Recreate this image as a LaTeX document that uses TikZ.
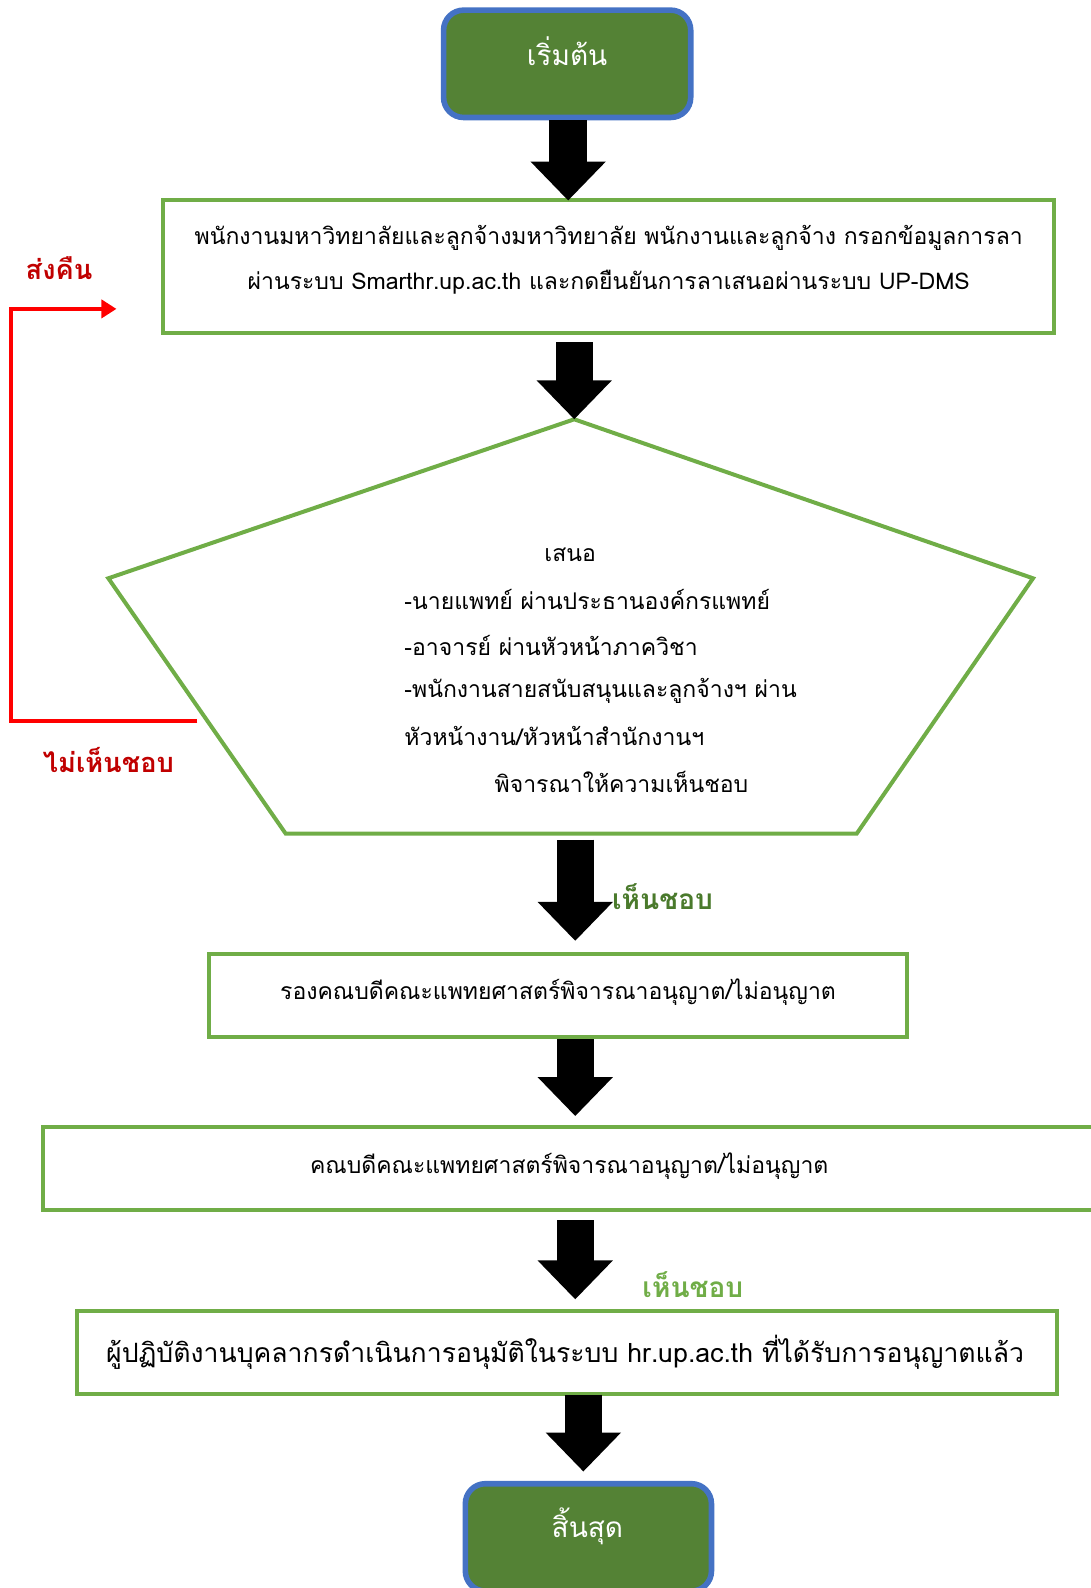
\documentclass[tikz,border=0pt]{standalone}
\usepackage{fontspec}
\newfontfamily\thai[Script=Thai]{Loma}
\usetikzlibrary{arrows.meta}
\definecolor{boxgreen}{HTML}{70AD47}
\definecolor{fillgreen}{HTML}{548235}
\definecolor{edgeblue}{HTML}{4472C4}
\definecolor{darkred}{HTML}{C00000}
\definecolor{okgreen}{HTML}{4A7A2C}
\tikzset{
  terminal/.style={draw=edgeblue, line width=2.8pt, fill=fillgreen, rounded corners=10pt,
    text=white, font=\thai\fontsize{14}{16}\selectfont, inner sep=0pt},
  stepbox/.style={draw=boxgreen, line width=2pt, fill=white, inner sep=0pt,
    font=\thai\fontsize{11.5}{22.5}\selectfont, align=center},
  fat/.style={line width=18.7pt, -{Triangle[width=36.5pt,length=19.5pt]}, black},
  back/.style={draw=red, line width=2pt, -{Triangle[width=9pt,length=7.5pt]}},
  plain/.style={inner sep=0pt, font=\thai\fontsize{11.5}{14}\selectfont},
  redlabel/.style={inner sep=0pt, text=darkred, font=\thai\bfseries\fontsize{13.6}{16}\selectfont},
}
\begin{document}
\begin{tikzpicture}[x=0.5065pt,y=-0.5065pt]
\useasboundingbox (0,0) rectangle (1077,1568);
% start
\node[terminal, minimum width=244*0.5065pt, minimum height=106*0.5065pt] (start) at (560,63) {};
\node[plain, text=white, font=\thai\fontsize{14}{16}\selectfont] (starttxt) at (560,51) {เริ่มต้น};
% box 1
\node[stepbox, minimum width=880*0.5065pt, minimum height=132*0.5065pt] (box1) at (601,263) {};
\node[plain] (b1a) at (601,235) {พนักงานมหาวิทยาลัยและลูกจ้างมหาวิทยาลัย พนักงานและลูกจ้าง กรอกข้อมูลการลา};
\node[plain] (b1b) at (601,279) {ผ่านระบบ Smarthr.up.ac.th และกดยืนยันการลาเสนอผ่านระบบ UP-DMS};
% pentagon
\coordinate (ptop) at (567,414);
\coordinate (pul) at (107,571);
\coordinate (pur) at (1020,571);
\coordinate (pll) at (282,823);
\coordinate (plr) at (846,823);
\draw[boxgreen, line width=2pt, line join=miter] (ptop) -- (pur) -- (plr) -- (pll) -- (pul) -- cycle;
\node[plain] (p0) at (563,548) {เสนอ};
\node[plain, anchor=west] (p1) at (399,592) {-นายแพทย์ ผ่านประธานองค์กรแพทย์};
\node[plain, anchor=west] (p2) at (399,637) {-อาจารย์ ผ่านหัวหน้าภาควิชา};
\node[plain, anchor=west] (p3) at (399,682) {-พนักงานสายสนับสนุนและลูกจ้างฯ ผ่าน};
\node[plain, anchor=west] (p4) at (399,727) {หัวหน้างาน/หัวหน้าสำนักงานฯ};
\node[plain, anchor=west] (p5) at (488,772) {พิจารณาให้ความเห็นชอบ};
% box 2
\node[stepbox, minimum width=690*0.5065pt, minimum height=82*0.5065pt] (box2) at (551,983) {};
\node[plain] (b2t) at (551,980) {รองคณบดีคณะแพทยศาสตร์พิจารณาอนุญาต/ไม่อนุญาต};
% box 3
\node[stepbox, minimum width=1050*0.5065pt, minimum height=82*0.5065pt] (box3) at (567,1154) {};
\node[plain] (b3t) at (562,1151) {คณบดีคณะแพทยศาสตร์พิจารณาอนุญาต/ไม่อนุญาต};
% box 4
\node[stepbox, minimum width=968*0.5065pt, minimum height=82*0.5065pt] (box4) at (560,1335) {};
\node[plain, font=\thai\fontsize{13.3}{16}\selectfont] (b4t) at (558,1335) {ผู้ปฏิบัติงานบุคลากรดำเนินการอนุมัติในระบบ hr.up.ac.th ที่ได้รับการอนุญาตแล้ว};
% end
\node[terminal, minimum width=243*0.5065pt, minimum height=106*0.5065pt] (stop) at (581,1518) {};
\node[plain, text=white, font=\thai\fontsize{14}{16}\selectfont] (stoptxt) at (580,1507) {สิ้นสุด};
% fat arrows
\coordinate (a1) at (561,198);
\coordinate (a3) at (568,929);
\coordinate (a4) at (568,1102);
\coordinate (a5) at (568,1283);
\coordinate (a6) at (576,1453);
\draw[fat] (start.south -| a1) -- (a1);
\draw[fat, shorten <=3.5pt] (box1.south -| ptop) -- (ptop);
\draw[fat, shorten <=3pt] (pll -| a3) -- (a3);
\draw[fat] (box2.south -| a4) -- (a4);
\draw[fat, shorten <=4pt] (box3.south -| a5) -- (a5);
\draw[fat] ([yshift=0.5pt]box4.south -| a6) -- (a6);
% labels
\node[inner sep=0pt, text=okgreen, font=\thai\bfseries\fontsize{14}{16}\selectfont, anchor=west] (ok1) at (604,885) {เห็นชอบ};
\node[inner sep=0pt, text=boxgreen, font=\thai\bfseries\fontsize{14}{16}\selectfont, anchor=west] (ok2) at (634,1268) {เห็นชอบ};
% return path
\coordinate (rs) at (195,712);
\coordinate (re) at (115,305);
\draw[back] (rs) -- (11,712) -- (11,305) -- (re);
\node[redlabel, anchor=west] (ret) at (25,265) {ส่งคืน};
\node[redlabel, anchor=west] (no) at (42,750) {ไม่เห็นชอบ};
\end{tikzpicture}
\end{document}
